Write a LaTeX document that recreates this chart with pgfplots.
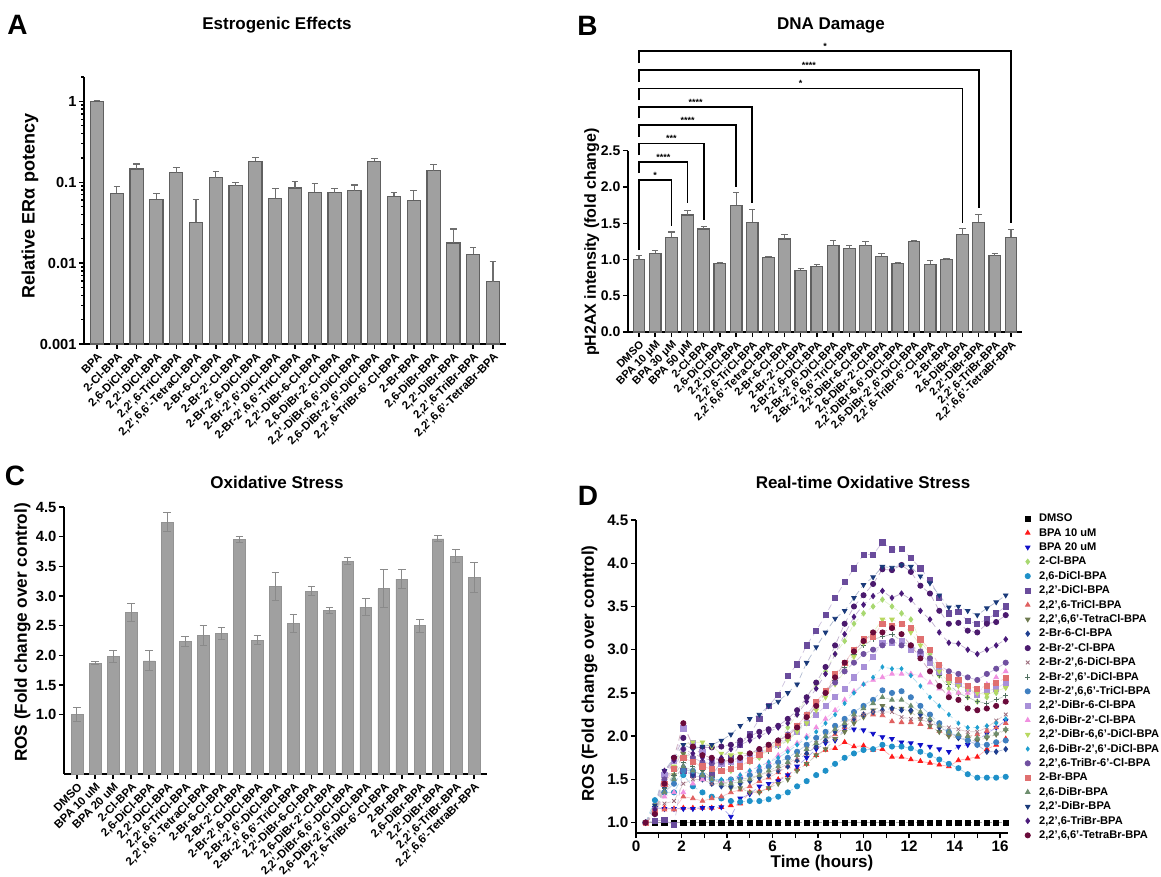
\documentclass[border=0pt]{standalone}
\usepackage{fontspec}
\setmainfont{Liberation Sans}
\usepackage{pgfplots}
\usepackage{pgfplotstable}
\pgfplotsset{compat=1.18}

\newcommand{\F}[1]{\fontsize{#1}{#1}\selectfont\bfseries}

\definecolor{barfill}{HTML}{A0A0A0}
\definecolor{baredge}{HTML}{606060}
\definecolor{errc}{HTML}{6E6E6E}
\definecolor{cerr}{HTML}{8A8A8A}
\definecolor{cA}{HTML}{FF1A1A}
\definecolor{cB}{HTML}{1010C8}
\definecolor{cC}{HTML}{A8D870}
\definecolor{cD}{HTML}{1E90C8}
\definecolor{cE}{HTML}{6A4C9C}
\definecolor{cF}{HTML}{E06060}
\definecolor{cG}{HTML}{6E7A50}
\definecolor{cH}{HTML}{1F3F8F}
\definecolor{cI}{HTML}{4B1A6E}
\definecolor{cJ}{HTML}{9A6A7A}
\definecolor{cK}{HTML}{4F6F5F}
\definecolor{cL}{HTML}{3F7FC0}
\definecolor{cM}{HTML}{A890D8}
\definecolor{cN}{HTML}{F090E0}
\definecolor{cO}{HTML}{B8D860}
\definecolor{cP}{HTML}{20A0D0}
\definecolor{cQ}{HTML}{7050A0}
\definecolor{cR}{HTML}{E07070}
\definecolor{cS}{HTML}{6E8E6E}
\definecolor{cT}{HTML}{1A3A7A}
\definecolor{cU}{HTML}{4A1A7A}
\definecolor{cV}{HTML}{6A0A3A}

\pgfplotstableread{
x y e
0 1.0 0.03
1 0.0726 0.017
2 0.146 0.022
3 0.0612 0.011
4 0.131 0.023
5 0.032 0.029
6 0.114 0.022
7 0.0905 0.008
8 0.181 0.023
9 0.063 0.021
10 0.0847 0.017
11 0.0748 0.022
12 0.074 0.009
13 0.0784 0.014
14 0.181 0.015
15 0.0673 0.008
16 0.060 0.019
17 0.139 0.028
18 0.0177 0.0087
19 0.0129 0.0026
20 0.0059 0.0046
}\Atab

\pgfplotstableread{
x y e
0 1.0 0.06
1 1.083 0.037
2 1.307 0.073
3 1.615 0.065
4 1.42 0.04
5 0.94 0.023
6 1.748 0.18
7 1.514 0.174
8 1.028 0.018
9 1.284 0.06
10 0.853 0.028
11 0.904 0.023
12 1.188 0.078
13 1.151 0.042
14 1.188 0.055
15 1.046 0.037
16 0.945 0.009
17 1.243 0.023
18 0.936 0.054
19 1.0 0.014
20 1.34 0.087
21 1.514 0.101
22 1.05 0.033
23 1.307 0.106
}\Btab

\pgfplotstableread{
x y e
0 1.0 0.12
1 1.868 0.03
2 1.985 0.1
3 2.725 0.15
4 1.907 0.17
5 4.247 0.16
6 2.237 0.08
7 2.338 0.17
8 2.366 0.1
9 3.951 0.05
10 2.254 0.075
11 3.161 0.24
12 2.534 0.15
13 3.083 0.07
14 2.758 0.05
15 3.587 0.06
16 2.814 0.15
17 3.122 0.32
18 3.284 0.16
19 2.5 0.11
20 3.962 0.05
21 3.671 0.11
22 3.312 0.245
}\Ctab

\pgfplotstableread{
time dmso a b c d e f g h i j k l m n o p q r s t u v
0.42 1 1 1 1 1 1 1 1 1 1 1 1 1 1 1 1 1 1 1 1 1 1 1
0.83 1 1.17 1.17 1.2 1.26 1.02 1.1 1.1 1.1 1.15 1.2 1.1 1.1 1.15 1.12 1.15 1.15 1.15 1.12 1.1 1.2 1.15 1.1
1.25 1 1.17 1.16 1.45 1.35 1.03 1.15 1.4 1.4 1.55 1.22 1.4 1.35 1.55 1.3 1.5 1.45 1.5 1.45 1.35 1.6 1.6 1.45
1.67 1 1.16 1.16 1.55 1.35 0.97 1.15 1.55 1.5 1.75 1.25 1.55 1.45 1.72 1.35 1.65 1.5 1.62 1.62 1.5 1.75 1.72 1.75
2.08 1 1.17 1.16 1.8 1.55 1.6 1.3 1.8 1.65 1.98 1.45 1.7 1.6 2.09 1.35 1.9 1.55 1.85 1.75 1.65 1.9 1.85 2.15
2.50 1 1.17 1.16 1.7 1.42 1.55 1.28 1.75 1.55 1.87 1.5 1.65 1.6 1.92 1.45 1.93 1.6 1.75 1.7 1.6 1.85 1.8 1.88
2.92 1 1.17 1.17 1.7 1.35 1.52 1.25 1.6 1.5 1.87 1.5 1.6 1.55 1.82 1.5 1.93 1.55 1.7 1.65 1.55 1.88 1.75 1.78
3.33 1 1.17 1.17 1.62 1.3 1.55 1.28 1.52 1.45 1.87 1.45 1.6 1.5 1.72 1.5 1.88 1.5 1.68 1.62 1.5 1.9 1.72 1.75
3.75 1 1.18 1.18 1.6 1.28 1.7 1.3 1.45 1.42 1.88 1.45 1.62 1.48 1.68 1.48 1.8 1.5 1.7 1.6 1.45 1.95 1.75 1.72
4.17 1 1.2 1.07 1.6 1.25 1.75 1.35 1.4 1.42 1.9 1.48 1.65 1.5 1.7 1.5 1.78 1.5 1.72 1.62 1.45 2.02 1.85 1.72
4.58 1 1.22 1.28 1.65 1.24 1.9 1.38 1.4 1.45 1.95 1.5 1.7 1.52 1.72 1.55 1.8 1.55 1.75 1.65 1.48 2.12 1.9 1.75
5.00 1 1.35 1.33 1.7 1.25 2.02 1.42 1.35 1.48 2.0 1.52 1.75 1.55 1.75 1.6 1.8 1.6 1.8 1.72 1.5 2.2 1.95 1.8
5.42 1 1.36 1.42 1.75 1.25 2.2 1.48 1.35 1.52 2.05 1.55 1.8 1.6 1.8 1.65 1.82 1.65 1.85 1.78 1.55 2.25 2.0 1.85
5.83 1 1.4 1.45 1.85 1.27 2.35 1.52 1.4 1.55 2.08 1.58 1.82 1.65 1.85 1.7 1.85 1.7 1.9 1.85 1.6 2.35 2.05 1.9
6.25 1 1.5 1.48 1.95 1.3 2.48 1.58 1.45 1.6 2.12 1.62 1.88 1.7 1.9 1.78 1.9 1.75 1.95 1.92 1.65 2.4 2.1 1.95
6.67 1 1.55 1.55 2.1 1.35 2.7 1.65 1.5 1.65 2.2 1.68 1.95 1.75 1.98 1.85 1.95 1.82 2.02 2.0 1.7 2.5 2.15 2.0
7.08 1 1.62 1.65 2.25 1.42 2.83 1.72 1.6 1.72 2.3 1.75 2.05 1.82 2.05 1.92 2.05 1.9 2.12 2.12 1.78 2.6 2.25 2.1
7.50 1 1.68 1.75 2.45 1.48 3.05 1.8 1.68 1.8 2.45 1.85 2.2 1.9 2.15 2.0 2.15 1.98 2.25 2.25 1.85 2.85 2.4 2.22
7.92 1 1.78 1.85 2.6 1.55 3.22 1.88 1.78 1.88 2.62 1.92 2.35 1.98 2.25 2.1 2.3 2.05 2.38 2.4 1.92 3.03 2.55 2.35
8.33 1 1.84 1.92 2.75 1.6 3.4 1.95 1.85 1.95 2.8 2.0 2.5 2.05 2.35 2.2 2.45 2.15 2.5 2.52 2.0 3.2 2.72 2.5
8.75 1 1.86 1.95 2.95 1.68 3.6 2.02 1.97 2.05 3.05 2.08 2.65 2.12 2.45 2.3 2.6 2.25 2.62 2.72 2.08 3.36 2.95 2.68
9.17 1 1.93 2.08 3.1 1.75 3.78 2.1 2.05 2.12 3.3 2.15 2.8 2.2 2.55 2.42 2.75 2.38 2.75 2.85 2.15 3.45 3.18 2.85
9.58 1 1.88 2.08 3.3 1.8 3.94 2.2 2.15 2.2 3.5 2.22 2.95 2.28 2.68 2.52 2.92 2.5 2.85 3.0 2.25 3.6 3.38 2.98
10.00 1 1.89 2.07 3.42 1.84 4.1 2.25 2.22 2.25 3.63 2.25 3.05 2.35 2.8 2.6 3.08 2.6 2.95 3.12 2.32 3.75 3.52 3.1
10.42 1 1.84 2.03 3.5 1.85 4.1 2.25 2.3 2.28 3.76 2.28 3.12 2.42 2.92 2.65 3.2 2.68 3.0 3.15 2.38 3.84 3.62 3.2
10.83 1 1.85 1.99 3.58 1.9 4.24 2.24 2.35 2.3 3.93 2.28 3.15 2.53 3.08 2.68 3.35 2.8 3.05 3.3 2.45 3.96 3.68 3.2
11.25 1 1.76 1.97 3.5 1.88 4.16 2.17 2.32 2.32 3.92 2.28 3.18 2.5 3.08 2.72 3.35 2.78 3.1 3.27 2.42 3.95 3.6 3.25
11.67 1 1.76 1.93 3.42 1.88 4.17 2.16 2.32 2.3 3.98 2.22 3.1 2.52 3.1 2.72 3.3 2.78 3.05 3.3 2.42 3.98 3.65 3.18
12.08 1 1.73 1.92 3.35 1.86 4.06 2.16 2.28 2.3 3.9 2.2 3.05 2.45 3.0 2.72 3.2 2.7 3.05 3.25 2.35 3.96 3.58 3.05
12.50 1 1.71 1.9 3.1 1.82 3.94 2.14 2.2 2.25 3.74 2.2 2.95 2.35 2.95 2.7 3.05 2.58 2.98 3.12 2.28 3.85 3.45 2.9
12.92 1 1.69 1.88 2.95 1.78 3.81 2.1 2.12 2.18 3.65 2.15 2.85 2.25 2.85 2.62 2.9 2.45 2.9 3.0 2.2 3.77 3.35 2.75
13.33 1 1.67 1.85 2.7 1.73 3.6 2.06 2.05 2.1 3.45 2.12 2.7 2.15 2.75 2.55 2.75 2.35 2.82 2.82 2.12 3.63 3.2 2.58
13.75 1 1.65 1.82 2.55 1.68 3.42 2.02 2.0 2.05 3.3 2.1 2.6 2.05 2.65 2.5 2.62 2.25 2.75 2.68 2.05 3.49 3.08 2.45
14.17 1 1.72 1.88 2.5 1.63 3.44 2.0 1.98 1.98 3.31 2.08 2.5 2.0 2.6 2.5 2.58 2.15 2.72 2.65 2.02 3.5 3.07 2.42
14.58 1 1.74 1.9 2.45 1.56 3.33 2.0 1.95 1.95 3.22 2.05 2.45 1.95 2.55 2.5 2.55 2.1 2.68 2.58 2.0 3.45 3.0 2.32
15.00 1 1.76 1.95 2.4 1.52 3.3 2.02 1.95 1.9 3.2 2.05 2.4 1.9 2.48 2.5 2.5 2.1 2.65 2.55 1.98 3.4 2.95 2.3
15.42 1 1.85 2.03 2.45 1.52 3.35 2.06 1.98 1.82 3.3 2.1 2.38 1.9 2.52 2.6 2.48 2.12 2.72 2.58 2.0 3.48 3.0 2.32
15.83 1 1.9 2.1 2.5 1.52 3.42 2.1 2.02 1.82 3.32 2.18 2.42 1.93 2.55 2.68 2.52 2.15 2.78 2.62 2.03 3.55 3.05 2.35
16.25 1 1.97 2.18 2.57 1.53 3.5 2.15 2.07 1.85 3.4 2.25 2.47 1.95 2.62 2.75 2.56 2.2 2.85 2.67 2.08 3.63 3.12 2.4
}\Dtab

\pgfplotsset{
  base/.style={
    scale only axis,
    axis lines*=left,
    axis line style={line width=0.9pt, black},
    tick style={black, line width=0.7pt},
    tick align=outside,
    major tick length=2.6pt,
    minor tick length=1.5pt,
    /pgf/number format/assume math mode=true,
    yticklabel style={inner sep=1pt},
    clip=false,
  },
  dotleg/.style={legend image code/.code={\draw[##1] plot coordinates {(0pt,0pt)};}},
}

\newcommand{\Dser}[5]{%
  \addplot[forget plot, #2!35!white, densely dashed, line width=0.35pt] table[x=time,y=#1]{\Dtab};
  \addplot[only marks, color=#2, mark=#3, mark size=1.3pt, mark options={#4}, dotleg] table[x=time,y=#1]{\Dtab};
  \addlegendentry{#5}
}

\begin{document}
\begin{tikzpicture}
\useasboundingbox (0,0) rectangle (580.5pt,-438.5pt);

% ---------------- Panel A ----------------
\begin{axis}[base,
  at={(42pt,-172pt)}, anchor=south west,
  width=211pt, height=133.5pt,
  ymode=log, log origin y=infty,
  xmin=-0.657, xmax=20.657, ymin=0.001, ymax=2,
  ytick={0.001,0.01,0.1,1},
  yticklabels={0.001,0.01,0.1,1},
  minor ytick={0.002,0.003,0.004,0.005,0.006,0.007,0.008,0.009,0.02,0.03,0.04,0.05,0.06,0.07,0.08,0.09,0.2,0.3,0.4,0.5,0.6,0.7,0.8,0.9,2},
  yticklabel style={font=\F{7.3}},
  xtick={0,...,20},
  xticklabels={{BPA},{2-Cl-BPA},{2,6-DiCl-BPA},{2,2'-DiCl-BPA},{2,2',6-TriCl-BPA},{2,2',6,6'-TetraCl-BPA},{2-Br-6-Cl-BPA},{2-Br-2'-Cl-BPA},{2-Br-2',6-DiCl-BPA},{2-Br-2',6'-DiCl-BPA},{2-Br-2',6,6'-TriCl-BPA},{2,2'-DiBr-6-Cl-BPA},{2,6-DiBr-2'-Cl-BPA},{2,2'-DiBr-6,6'-DiCl-BPA},{2,6-DiBr-2',6'-DiCl-BPA},{2,2',6-TriBr-6'-Cl-BPA},{2-Br-BPA},{2,6-DiBr-BPA},{2,2'-DiBr-BPA},{2,2',6-TriBr-BPA},{2,2',6,6'-TetraBr-BPA}},
  xticklabel style={rotate=45, anchor=north east, inner sep=0.8pt, font=\F{5.75}},
  ylabel={Relative ERα potency},
  ylabel style={font=\F{9}, at={(axis description cs:-0.128,0.517)}, anchor=center},
]
\addplot[ybar, bar width=6.65pt, fill=barfill, draw=baredge, line width=0.6pt,
  error bars/.cd, y dir=plus, y explicit,
  error bar style={errc, line width=0.55pt},
  error mark options={errc, line width=0.55pt, mark size=1.65pt, rotate=90}]
  table[x=x, y=y, y error=e]{\Atab};
\end{axis}

% ---------------- Panel B ----------------
\begin{axis}[base,
  at={(314pt,-166pt)}, anchor=south west,
  width=197pt, height=145pt,
  xmin=-0.68, xmax=23.68, ymin=0, ymax=4,
  y axis line style={draw=none},
  ytick={0,0.5,1,1.5,2,2.5},
  yticklabel style={font=\F{7}, /pgf/number format/fixed, /pgf/number format/fixed zerofill, /pgf/number format/precision=1},
  xtick={0,...,23},
  xticklabels={{DMSO},{BPA 10 μM},{BPA 30 μM},{BPA 50 μM},{2-Cl-BPA},{2,6-DiCl-BPA},{2,2'-DiCl-BPA},{2,2',6-TriCl-BPA},{2,2',6,6'-TetraCl-BPA},{2-Br-6-Cl-BPA},{2-Br-2'-Cl-BPA},{2-Br-2',6-DiCl-BPA},{2-Br-2',6'-DiCl-BPA},{2-Br-2',6,6'-TriCl-BPA},{2,2'-DiBr-6-Cl-BPA},{2,6-DiBr-2'-Cl-BPA},{2,2'-DiBr-6,6'-DiCl-BPA},{2,6-DiBr-2',6'-DiCl-BPA},{2,2',6-TriBr-6'-Cl-BPA},{2-Br-BPA},{2,6-DiBr-BPA},{2,2'-DiBr-BPA},{2,2',6-TriBr-BPA},{2,2',6,6'-TetraBr-BPA}},
  xticklabel style={rotate=45, anchor=north east, inner sep=0.8pt, font=\F{5.5}},
  ylabel={pH2AX intensity (fold change)},
  ylabel style={font=\F{8}, at={(axis description cs:-0.092,0.31)}, anchor=center},
]
\draw[line width=0.9pt] (rel axis cs:0,0) -- (rel axis cs:0,0.625);
\addplot[ybar, bar width=5.85pt, fill=barfill, draw=baredge, line width=0.6pt,
  error bars/.cd, y dir=plus, y explicit,
  error bar style={errc, line width=0.55pt},
  error mark options={errc, line width=0.55pt, mark size=1.6pt, rotate=90}]
  table[x=x, y=y, y error=e]{\Btab};
\addplot[black, line width=0.85pt] coordinates {(0,1.13) (0,2.096) (2,2.096) (2,1.46)};
\addplot[black, line width=0.85pt] coordinates {(0,2.19) (0,2.349) (3,2.349) (3,1.775)};
\addplot[black, line width=0.85pt] coordinates {(0,2.44) (0,2.601) (4,2.601) (4,1.546)};
\addplot[black, line width=0.85pt] coordinates {(0,2.69) (0,2.853) (6,2.853) (6,1.995)};
\addplot[black, line width=0.85pt] coordinates {(0,2.95) (0,3.106) (7,3.106) (7,1.775)};
\addplot[black, line width=0.85pt] coordinates {(0,3.20) (0,3.358) (20,3.358) (20,1.509)};
\addplot[black, line width=0.85pt] coordinates {(0,3.45) (0,3.610) (21,3.610) (21,1.706)};
\addplot[black, line width=0.85pt] coordinates {(0,3.71) (0,3.872) (23,3.872) (23,1.5)};
\node[font=\F{4.5}, anchor=south, inner sep=0.6pt] at (axis cs:1,2.096) {*};
\node[font=\F{4.5}, anchor=south, inner sep=0.6pt] at (axis cs:1.5,2.349) {****};
\node[font=\F{4.5}, anchor=south, inner sep=0.6pt] at (axis cs:2,2.601) {***};
\node[font=\F{4.5}, anchor=south, inner sep=0.6pt] at (axis cs:3,2.853) {****};
\node[font=\F{4.5}, anchor=south, inner sep=0.6pt] at (axis cs:3.5,3.106) {****};
\node[font=\F{4.5}, anchor=south, inner sep=0.6pt] at (axis cs:10,3.358) {*};
\node[font=\F{4.5}, anchor=south, inner sep=0.6pt] at (axis cs:10.5,3.610) {****};
\node[font=\F{4.5}, anchor=south, inner sep=0.6pt] at (axis cs:11.5,3.872) {*};
\end{axis}

% ---------------- Panel C ----------------
\begin{axis}[base,
  at={(32pt,-387pt)}, anchor=south west,
  width=211.5pt, height=133.5pt,
  xmin=-0.72, xmax=22.72, ymin=0, ymax=4.5,
  ytick={1,1.5,2,2.5,3,3.5,4,4.5},
  yticklabel style={font=\F{7.4}, /pgf/number format/fixed, /pgf/number format/fixed zerofill, /pgf/number format/precision=1},
  xtick={0,...,22},
  xticklabels={{DMSO},{BPA 10 uM},{BPA 20 uM},{2-Cl-BPA},{2,6-DiCl-BPA},{2,2'-DiCl-BPA},{2,2',6-TriCl-BPA},{2,2',6,6'-TetraCl-BPA},{2-Br-6-Cl-BPA},{2-Br-2'-Cl-BPA},{2-Br-2',6-DiCl-BPA},{2-Br-2',6'-DiCl-BPA},{2-Br-2',6,6'-TriCl-BPA},{2,2'-DiBr-6-Cl-BPA},{2,6-DiBr-2'-Cl-BPA},{2,2'-DiBr-6,6'-DiCl-BPA},{2,6-DiBr-2',6'-DiCl-BPA},{2,2',6-TriBr-6'-Cl-BPA},{2-Br-BPA},{2,6-DiBr-BPA},{2,2'-DiBr-BPA},{2,2',6-TriBr-BPA},{2,2',6,6'-TetraBr-BPA}},
  xticklabel style={rotate=45, anchor=north east, inner sep=0.8pt, font=\F{5.75}},
  ylabel={ROS (Fold change over control)},
  ylabel style={font=\F{8.6}, at={(axis description cs:-0.098,0.53)}, anchor=center},
]
\addplot[ybar, bar width=5.85pt, fill=barfill, draw=barfill!92!black, line width=0.3pt,
  error bars/.cd, y dir=both, y explicit,
  error bar style={cerr, line width=0.5pt},
  error mark options={cerr, line width=0.5pt, mark size=1.9pt, rotate=90}]
  table[x=x, y=y, y error=e]{\Ctab};
\end{axis}

% ---------------- Panel D ----------------
\begin{axis}[base,
  at={(318pt,-416.5pt)}, anchor=south west,
  width=186pt, height=156.5pt,
  xmin=0, xmax=16.35, ymin=0.88, ymax=4.5,
  xtick={0,2,4,6,8,10,12,14,16},
  minor xtick={1,3,5,7,9,11,13,15},
  minor tick length=2.6pt,
  ytick={1,1.5,2,2.5,3,3.5,4,4.5},
  xticklabel style={font=\F{7.6}, inner sep=1pt},
  yticklabel style={font=\F{7.6}, /pgf/number format/fixed, /pgf/number format/fixed zerofill, /pgf/number format/precision=1},
  xlabel={Time (hours)},
  xlabel style={font=\F{8.5}, at={(axis description cs:0.5,-0.097)}, anchor=center},
  ylabel={ROS (Fold change over control)},
  ylabel style={font=\F{8.5}, at={(axis description cs:-0.125,0.51)}, anchor=center},
  legend style={at={(axis description cs:1.045,1.029)}, anchor=north west, draw=none, fill=none,
    inner sep=0pt, font=\F{5.55}, column sep=3.8pt,
    nodes={inner sep=0.6pt, text height=4.6pt, text depth=1.4pt}},
  legend cell align=left,
]
\Dser{dmso}{black}{square*}{}{DMSO}
\Dser{a}{cA}{triangle*}{}{BPA 10 uM}
\Dser{b}{cB}{triangle*}{rotate=180}{BPA 20 uM}
\Dser{c}{cC}{diamond*}{}{2-Cl-BPA}
\Dser{d}{cD}{*}{}{2,6-DiCl-BPA}
\Dser{e}{cE}{square*}{}{2,2'-DiCl-BPA}
\Dser{f}{cF}{triangle*}{}{2,2',6-TriCl-BPA}
\Dser{g}{cG}{triangle*}{rotate=180}{2,2',6,6'-TetraCl-BPA}
\Dser{h}{cH}{diamond*}{}{2-Br-6-Cl-BPA}
\Dser{i}{cI}{*}{}{2-Br-2'-Cl-BPA}
\Dser{j}{cJ}{x}{}{2-Br-2',6-DiCl-BPA}
\Dser{k}{cK}{+}{}{2-Br-2',6'-DiCl-BPA}
\Dser{l}{cL}{*}{}{2-Br-2',6,6'-TriCl-BPA}
\Dser{m}{cM}{square*}{}{2,2'-DiBr-6-Cl-BPA}
\Dser{n}{cN}{triangle*}{}{2,6-DiBr-2'-Cl-BPA}
\Dser{o}{cO}{triangle*}{rotate=180}{2,2'-DiBr-6,6'-DiCl-BPA}
\Dser{p}{cP}{diamond*}{scale=0.8}{2,6-DiBr-2',6'-DiCl-BPA}
\Dser{q}{cQ}{*}{}{2,2',6-TriBr-6'-Cl-BPA}
\Dser{r}{cR}{square*}{}{2-Br-BPA}
\Dser{s}{cS}{triangle*}{}{2,6-DiBr-BPA}
\Dser{t}{cT}{triangle*}{rotate=180}{2,2'-DiBr-BPA}
\Dser{u}{cU}{diamond*}{}{2,2',6-TriBr-BPA}
\Dser{v}{cV}{*}{}{2,2',6,6'-TetraBr-BPA}
\end{axis}

% ---------------- Titles and panel letters ----------------
\node[font=\F{8.5}, anchor=base] at (138.5pt,-14.75pt) {Estrogenic Effects};
\node[font=\F{8.5}, anchor=base] at (415.5pt,-14.75pt) {DNA Damage};
\node[font=\F{8.5}, anchor=base] at (138.5pt,-244pt) {Oxidative Stress};
\node[font=\F{8.5}, anchor=base] at (431.5pt,-244pt) {Real-time Oxidative Stress};
\node[font=\F{14}] at (8.75pt,-12.5pt) {A};
\node[font=\F{14}] at (293.75pt,-13pt) {B};
\node[font=\F{14}] at (7.5pt,-238pt) {C};
\node[font=\F{14}] at (294pt,-248pt) {D};
\end{tikzpicture}
\end{document}
